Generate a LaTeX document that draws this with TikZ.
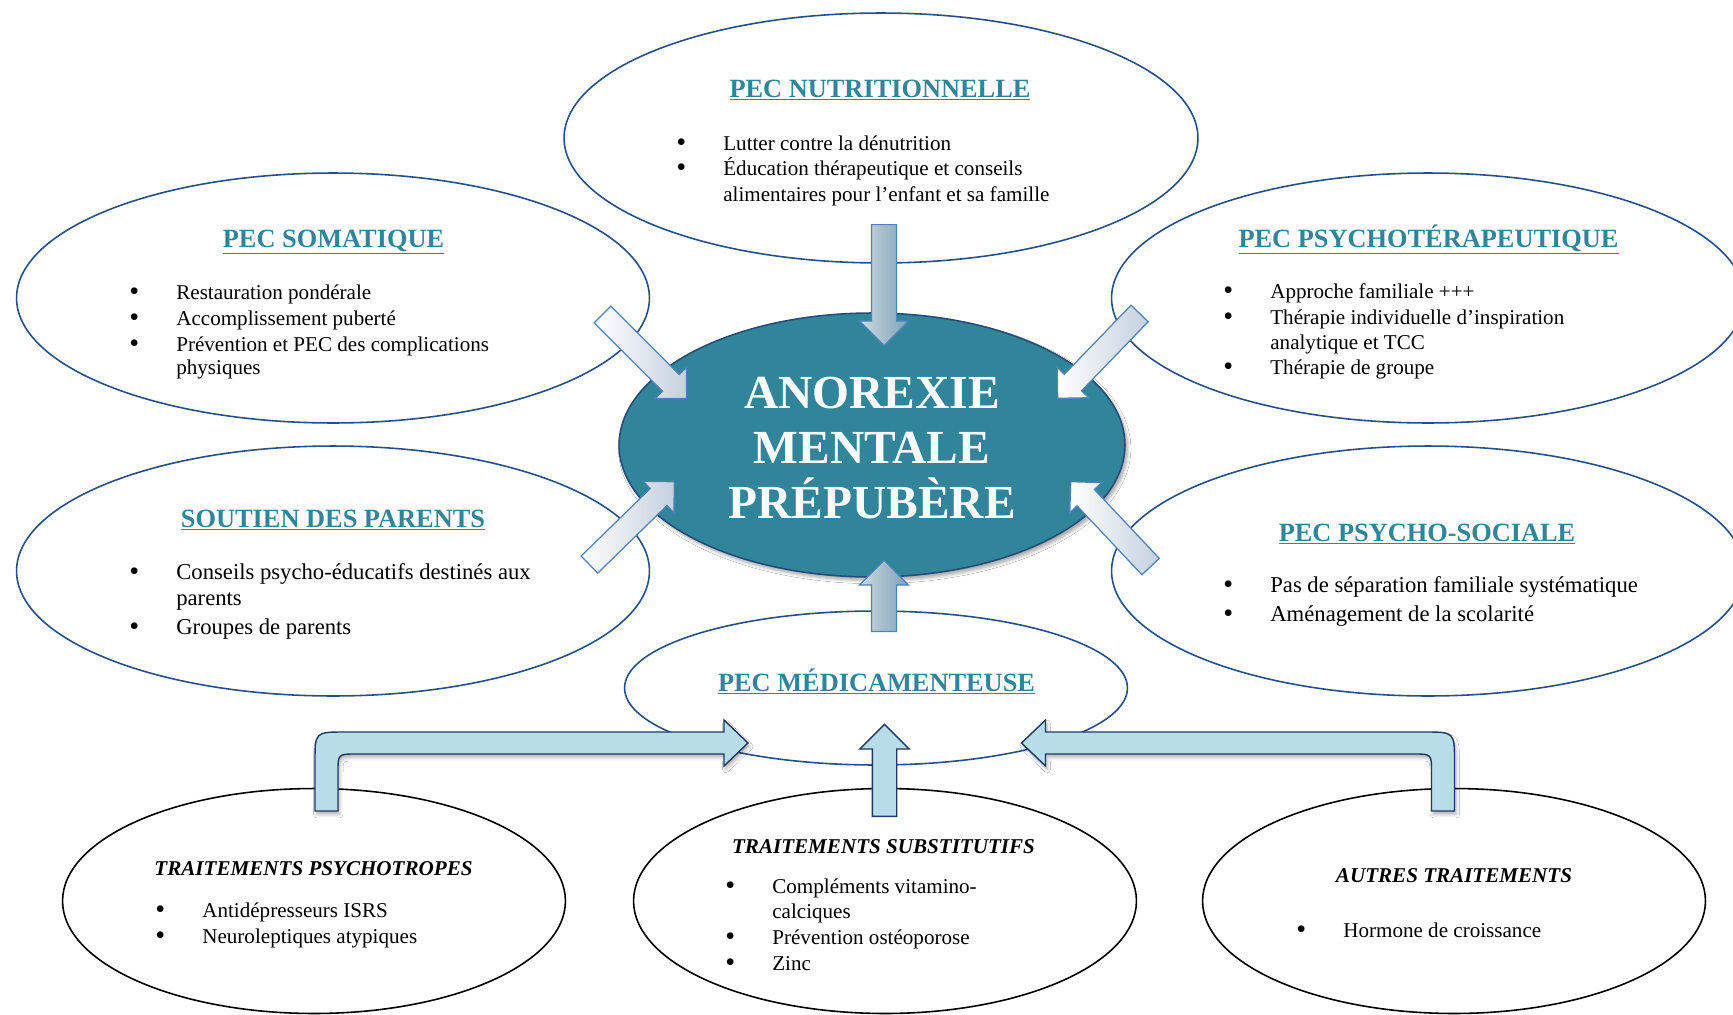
\documentclass[tikz,border=0pt]{standalone}
\usepackage{fontspec}
\setmainfont{Liberation Serif}
\usetikzlibrary{
    positioning,
    calc,
    shapes.geometric,
    shapes.arrows,
    shadows.blur
}
\definecolor{ringBlue}{RGB}{38, 79, 138}
\definecolor{coreTeal}{RGB}{49, 133, 155}
\definecolor{coreEdge}{RGB}{36, 77, 120}
\definecolor{titleTeal}{RGB}{49, 133, 155}
\definecolor{arrowEdge}{RGB}{79, 129, 189}
\definecolor{arrowTail}{RGB}{204, 218, 227}
\definecolor{arrowTip}{RGB}{125, 161, 181}
\definecolor{diagTip}{RGB}{196, 209, 223}
\definecolor{pipeFill}{RGB}{183, 221, 232}
\definecolor{pipeEdge}{RGB}{31, 56, 100}

\newcommand{\bul}{\makebox[0.94cm][l]{\raisebox{-0.9pt}{\fontsize{16}{14}\selectfont\textbullet}}}
\newcommand{\nobul}{\hspace*{0.94cm}}

% block arrow, tail at #2, tip at #3
\newcommand{\blockarrow}[3][]{%
    \path let \p1=($(#3)-(#2)$), \n1={atan2(\y1,\x1)}, \n2={veclen(\x1,\y1)} in
        node[barrow, #1, minimum height=\n2, rotate=\n1, anchor=tail] at (#2) {};}

% bent pipe arrow, stub foot at #1, #2 = 1 (to the right) or -1 (to the left)
\newcommand{\pipearrow}[2]{%
    \begin{scope}[shift={(#1)}, xscale=#2]
        \draw[pipe] (-11.5,0) -- (-11.5,-49) .. controls (-11.5,-79) .. (18.5,-79)
            -- (397.5,-79) -- (397.5,-91) -- (421.5,-68) -- (397.5,-45) -- (397.5,-57)
            -- (29.5,-57) .. controls (11.5,-57) .. (11.5,-39) -- (11.5,0) -- cycle;
    \end{scope}}

% one node per printed line: name, left x, {baseline/text, ...}
\newcommand{\itemlist}[4][]{%
    \foreach \iy/\itxt [count=\i] in {#4}
        \node[entry, #1] (#2-\i) at (#3,\iy) {\itxt};}

\begin{document}
\begin{tikzpicture}[x=0.02cm, y=-0.02cm,
    ring/.style={ellipse, draw=ringBlue, line width=0.9pt, inner sep=0pt,
        minimum width=12.66cm, minimum height=5cm},
    blackring/.style={ring, draw=black, minimum width=10.06cm, minimum height=4.5cm},
    heading/.style={anchor=base, inner sep=0pt, text=titleTeal,
        font=\fontsize{15}{18}\selectfont\bfseries},
    subheading/.style={anchor=base, inner sep=0pt,
        font=\fontsize{12}{14}\selectfont\bfseries\itshape},
    entry/.style={anchor=base west, inner sep=0pt, font=\fontsize{12}{14}\selectfont},
    bigentry/.style={font=\fontsize{12.9}{15}\selectfont},
    core/.style={anchor=base, inner sep=0pt, text=white,
        font=\fontsize{27}{31}\selectfont\bfseries},
    barrow/.style={single arrow, draw=arrowEdge, line width=0.7pt, inner xsep=0pt,
        inner ysep=0.24cm, minimum width=0pt, single arrow head extend=0.24cm,
        single arrow tip angle=90},
    diag/.style={inner ysep=0.226cm, single arrow head extend=0.2cm,
        left color=white, right color=diagTip},
    pipe/.style={fill=pipeFill, draw=pipeEdge, line width=0.8pt,
        blur shadow={shadow xshift=1pt, shadow yshift=-2pt, shadow opacity=30,
        shadow blur steps=5}}
]
    \path[use as bounding box, fill=white] (0,0) rectangle (1733,1014);

    % outer rings
    \node[ring, minimum width=12.68cm] (nutri) at (881,138) {};
    \node[ring] (soma) at (333,298) {};
    \node[ring] (psy) at (1428,298) {};
    \node[ring] (parents) at (333,571) {};
    \node[ring] (social) at (1428,571) {};
    \node[ring, minimum width=10.06cm, minimum height=3.08cm] (medic) at (876,688) {};
    \node[blackring] (psytrop) at (314,901) {};
    \node[blackring] (subst) at (885,901) {};
    \node[blackring] (autres) at (1454,901) {};

    % core
    \node[ring, fill=coreTeal, draw=coreEdge, minimum width=10.12cm, minimum height=5.28cm,
        blur shadow={shadow xshift=1.5pt, shadow yshift=-2pt, shadow opacity=35,
        shadow blur steps=6}] (amp) at (872,445) {};
    \foreach \w/\ly [count=\i] in {ANOREXIE/408, MENTALE/463, PRÉPUBÈRE/518}
        \node[core] (amp-\i) at (872,\ly) {\w};

    % arrows into the core
    \coordinate (nutri-out) at (884,224);   \coordinate (amp-n) at (884,345);
    \coordinate (medic-out) at (884,632);   \coordinate (amp-s) at (884,561);
    \coordinate (soma-out) at (602,314);    \coordinate (amp-nw) at (686,398);
    \coordinate (psy-out) at (1140,313);    \coordinate (amp-ne) at (1058,398);
    \coordinate (parents-out) at (589,565); \coordinate (amp-sw) at (674,482);
    \coordinate (social-out) at (1151,567); \coordinate (amp-se) at (1071,482);

    \blockarrow[name=a-nutri, left color=arrowTail, right color=arrowTip]{nutri-out}{amp-n}
    \blockarrow[name=a-medic, left color=arrowTail, right color=arrowTip]{medic-out}{amp-s}
    \blockarrow[name=a-soma, diag]{soma-out}{amp-nw}
    \blockarrow[name=a-psy, diag]{psy-out}{amp-ne}
    \blockarrow[name=a-parents, diag]{parents-out}{amp-sw}
    \blockarrow[name=a-social, diag]{social-out}{amp-se}

    % treatments into PEC medicamenteuse
    \coordinate (psytrop-out) at (326.5,811);
    \coordinate (autres-out) at (1443,811);
    \coordinate (subst-out) at (884.5,817); \coordinate (medic-in) at (884.5,725);
    \pipearrow{psytrop-out}{1}
    \pipearrow{autres-out}{-1}
    \blockarrow[name=a-subst, fill=pipeFill, draw=pipeEdge, line width=0.8pt,
        inner ysep=0.23cm, single arrow head extend=0.25cm]{subst-out}{medic-in}

    % headings
    \node[heading] (nutri-title) at (880,97) {\underline{PEC NUTRITIONNELLE}};
    \node[heading] (soma-title) at (333.5,247) {\underline{PEC SOMATIQUE}};
    \node[heading] (psy-title) at (1428.5,247) {\underline{PEC PSYCHOTÉRAPEUTIQUE}};
    \node[heading] (parents-title) at (333,527) {\underline{SOUTIEN DES PARENTS}};
    \node[heading] (social-title) at (1427,541) {\underline{PEC PSYCHO-SOCIALE}};
    \node[heading] (medic-title) at (876.5,691) {\underline{PEC MÉDICAMENTEUSE}};
    \node[subheading] (psytrop-title) at (313.5,875) {TRAITEMENTS PSYCHOTROPES};
    \node[subheading] (subst-title) at (883.5,853) {TRAITEMENTS SUBSTITUTIFS};
    \node[subheading] (autres-title) at (1454,882) {AUTRES TRAITEMENTS};

    % bullet lists
    \itemlist{nutri}{676}{150/\bul Lutter contre la dénutrition,
        175/\bul Éducation thérapeutique et conseils,
        201/\nobul alimentaires pour l’enfant et sa famille}
    \itemlist{soma}{129}{299/\bul Restauration pondérale,
        325/\bul Accomplissement puberté,
        351/\bul Prévention et PEC des complications,
        374/\nobul physiques}
    \itemlist{psy}{1223}{298/\bul Approche familiale +++,
        324/\bul Thérapie individuelle d’inspiration,
        349/\nobul analytique et TCC,
        374/\bul Thérapie de groupe}
    \itemlist[bigentry]{parents}{129}{579/\bul Conseils psycho-éducatifs destinés aux,
        605/\nobul parents,
        634/\bul Groupes de parents}
    \itemlist[bigentry]{social}{1223}{592/\bul Pas de séparation familiale systématique,
        621/\bul Aménagement de la scolarité}
    \itemlist{psytrop}{155}{917/\bul Antidépresseurs ISRS,
        943/\bul Neuroleptiques atypiques}
    \itemlist{subst}{725}{893/\bul Compléments vitamino-,
        918/\nobul calciques,
        944/\bul Prévention ostéoporose,
        970/\bul Zinc}
    \itemlist{autres}{1296}{937/\bul Hormone de croissance}
\end{tikzpicture}
\end{document}
